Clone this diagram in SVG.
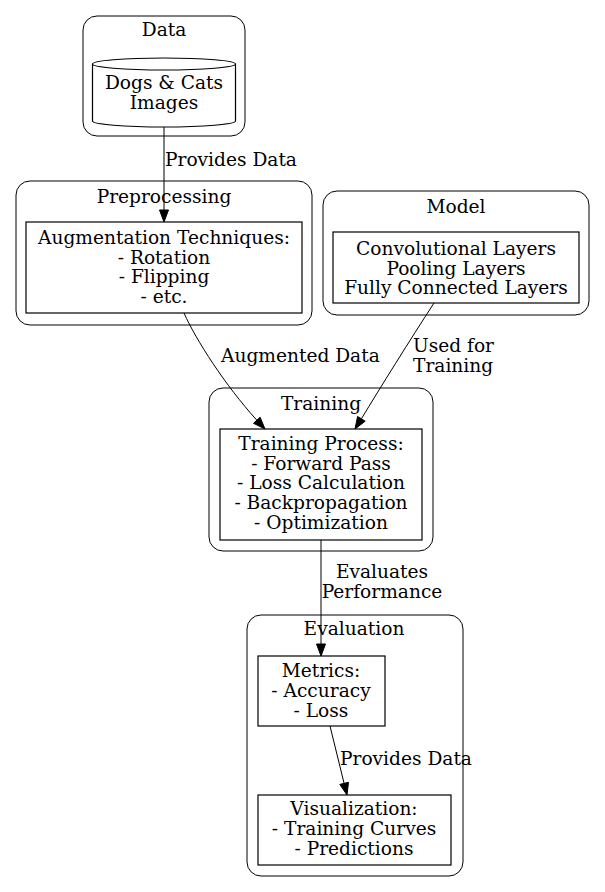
<svg xmlns="http://www.w3.org/2000/svg" width="605" height="892" viewBox="0 0 605 892">
<style>
text{font-family:"DejaVu Serif","Liberation Serif",serif;font-size:18.6px;fill:#000;text-anchor:middle}
.cl{fill:none;stroke:#000;stroke-width:1}
.nd{fill:none;stroke:#000;stroke-width:1.2}
.e{fill:none;stroke:#000;stroke-width:1}
.ah{fill:#000;stroke:#000;stroke-width:1}
.lbl{text-anchor:start}
</style>
<rect width="605" height="892" fill="#fff"/>
<g id="cluster_data">
<rect class="cl" x="83" y="16" width="162" height="120" rx="14"/>
<text x="164" y="36">Data</text>
</g>
<g id="cluster_preprocessing">
<rect class="cl" x="16" y="181" width="296" height="144" rx="14"/>
<text x="164" y="203">Preprocessing</text>
</g>
<g id="cluster_model">
<rect class="cl" x="323" y="191" width="266" height="124" rx="14"/>
<text x="456" y="213">Model</text>
</g>
<g id="cluster_training">
<rect class="cl" x="209" y="388" width="224" height="163" rx="14"/>
<text x="321" y="410">Training</text>
</g>
<g id="cluster_evaluation">
<rect class="cl" x="247" y="615" width="216" height="261" rx="14"/>
<text x="354" y="635">Evaluation</text>
</g>
<g id="node_images">
<path class="nd" d="M92.5,64 A71.5,6 0 0 1 235.5,64 L235.5,121 A71.5,6 0 0 1 92.5,121 Z M92.5,64 A71.5,6 0 0 0 235.5,64"/>
<text x="164" y="89">Dogs &amp; Cats</text>
<text x="164" y="108.5">Images</text>
</g>
<g id="node_augmentation">
<rect class="nd" x="26" y="222" width="276" height="91"/>
<text x="164" y="244">Augmentation Techniques:</text>
<text x="164" y="263.5">- Rotation</text>
<text x="164" y="283">- Flipping</text>
<text x="164" y="302.5">- etc.</text>
</g>
<g id="node_model">
<rect class="nd" x="333" y="232" width="246" height="71"/>
<text x="456" y="254.5">Convolutional Layers</text>
<text x="456" y="274.5">Pooling Layers</text>
<text x="456" y="294">Fully Connected Layers</text>
</g>
<g id="node_training">
<rect class="nd" x="220" y="429" width="202" height="111"/>
<text x="321" y="450">Training Process:</text>
<text x="321" y="469.7">- Forward Pass</text>
<text x="321" y="489.3">- Loss Calculation</text>
<text x="321" y="509">- Backpropagation</text>
<text x="321" y="529">- Optimization</text>
</g>
<g id="node_metrics">
<rect class="nd" x="258" y="656" width="127" height="70"/>
<text x="321" y="676.7">Metrics:</text>
<text x="321" y="696.5">- Accuracy</text>
<text x="321" y="716.5">- Loss</text>
</g>
<g id="node_visualization">
<rect class="nd" x="258" y="795" width="193" height="70"/>
<text x="354" y="815">Visualization:</text>
<text x="354" y="835">- Training Curves</text>
<text x="354" y="855">- Predictions</text>
</g>
<g id="connectors">
<path class="e" d="M164,127 L164,210"/>
<polygon class="ah" points="159.5,210 164,222 168.5,210"/>
<text class="lbl" x="165" y="165.5">Provides Data</text>
<path class="e" d="M184,313 C196,340 225,385 256.8,420.2"/>
<polygon class="ah" points="253.5,423.3 265,429 260.1,417.2"/>
<text class="lbl" x="221" y="362">Augmented Data</text>
<path class="e" d="M434,303 C410,340 380,388 361.4,418.8"/>
<polygon class="ah" points="365.2,421.2 355,429 357.6,416.4"/>
<text class="lbl" x="413" y="352">Used for</text>
<text class="lbl" x="413" y="372">Training</text>
<path class="e" d="M321,540 L321,644"/>
<polygon class="ah" points="316.5,644 321,656 325.5,644"/>
<text x="382" y="578.3">Evaluates</text>
<text x="382" y="598.3">Performance</text>
<path class="e" d="M330,726 L344.1,783.4"/>
<polygon class="ah" points="339.8,784.4 347,795 348.5,782.3"/>
<text class="lbl" x="340" y="765">Provides Data</text>
</g>
</svg>
